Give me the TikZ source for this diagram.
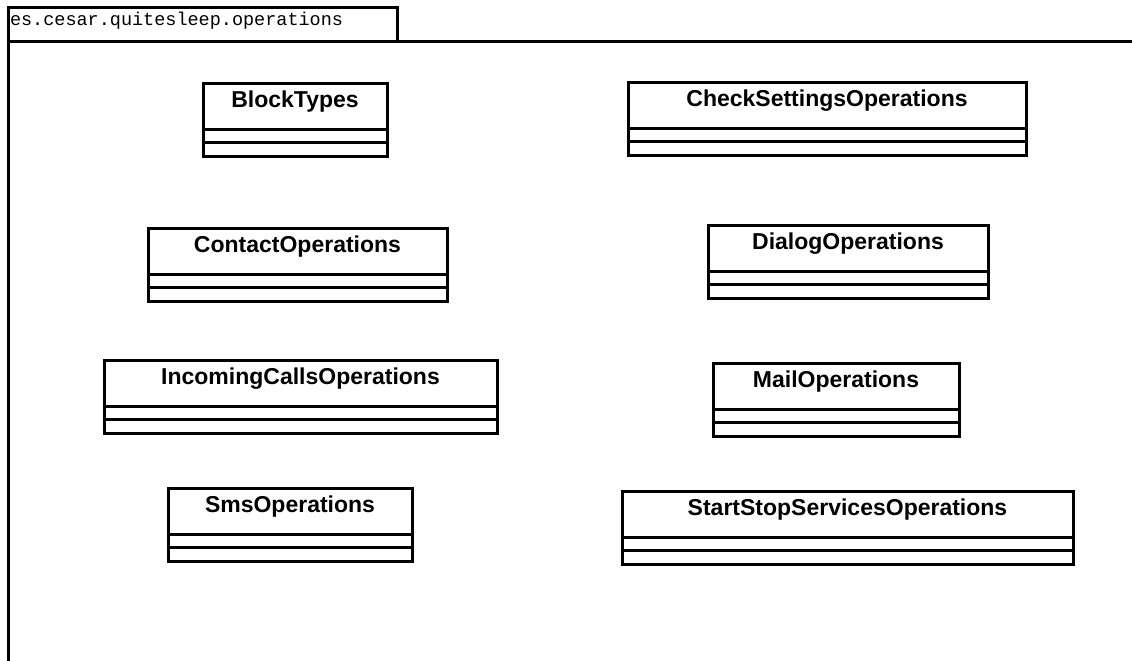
\documentclass[tikz,border=0pt]{standalone}
\usepackage{fontspec}
\setmainfont{Liberation Sans}
\setmonofont{Liberation Mono}
\usetikzlibrary{positioning}

\begin{document}
\begin{tikzpicture}[x=1pt,y=-1pt,line width=3pt,
  classname/.style={draw, anchor=north west, outer sep=0pt, inner ysep=0pt,
    minimum width=#1, text height=24pt, text depth=22pt,
    font=\fontsize{23}{26}\selectfont\bfseries},
  compart/.style={draw, outer sep=0pt, inner sep=0pt, minimum width=#1,
    minimum height=13.5pt}]
\useasboundingbox (0,0) rectangle (1132,661);

% package tab and frame
\node [draw, anchor=north west, outer sep=0pt, inner xsep=2pt, inner ysep=0pt,
  text width=385pt, align=left, text height=18pt, text depth=16pt,
  font=\ttfamily\fontsize{18.5}{20}\selectfont] (pkg) at (8,8) {es.cesar.quitesleep.operations};
\coordinate (frame-ne) at (1132,42);
\coordinate (frame-sw) at (8,661);
\draw (pkg.south east) -- (frame-ne);
\draw (pkg.north west) -- (frame-sw);

% left column
\node [classname=184] (blocktypes) at (203,83) {BlockTypes};
\node [compart=184, below=0pt of blocktypes] (blocktypes-attr) {};
\node [compart=184, below=0pt of blocktypes-attr] (blocktypes-op) {};

\node [classname=299] (contact) at (148,228) {ContactOperations};
\node [compart=299, below=0pt of contact] (contact-attr) {};
\node [compart=299, below=0pt of contact-attr] (contact-op) {};

\node [classname=393] (calls) at (104,360) {IncomingCallsOperations};
\node [compart=393, below=0pt of calls] (calls-attr) {};
\node [compart=393, below=0pt of calls-attr] (calls-op) {};

\node [classname=244] (sms) at (168,488) {SmsOperations};
\node [compart=244, below=0pt of sms] (sms-attr) {};
\node [compart=244, below=0pt of sms-attr] (sms-op) {};

% right column
\node [classname=398] (settings) at (628,82) {CheckSettingsOperations};
\node [compart=398, below=0pt of settings] (settings-attr) {};
\node [compart=398, below=0pt of settings-attr] (settings-op) {};

\node [classname=280] (dialog) at (708,225) {DialogOperations};
\node [compart=280, below=0pt of dialog] (dialog-attr) {};
\node [compart=280, below=0pt of dialog-attr] (dialog-op) {};

\node [classname=246] (mail) at (713,363) {MailOperations};
\node [compart=246, below=0pt of mail] (mail-attr) {};
\node [compart=246, below=0pt of mail-attr] (mail-op) {};

\node [classname=451] (services) at (622,491) {StartStopServicesOperations};
\node [compart=451, below=0pt of services] (services-attr) {};
\node [compart=451, below=0pt of services-attr] (services-op) {};
\end{tikzpicture}
\end{document}
